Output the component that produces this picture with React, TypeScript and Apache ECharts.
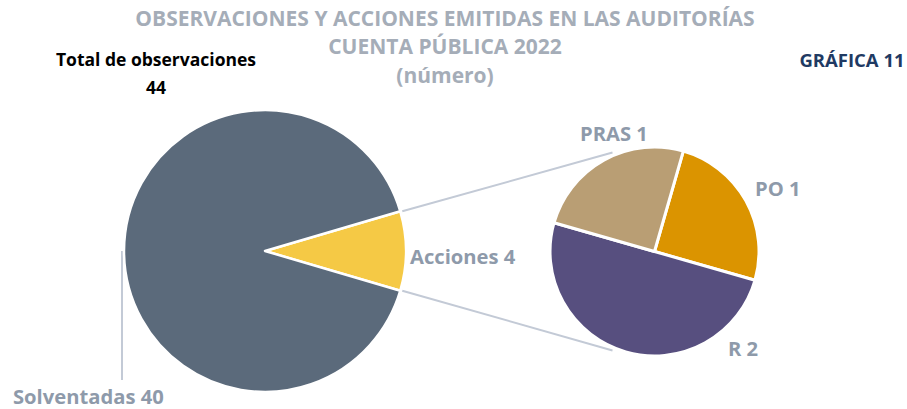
import React, { useEffect, useRef } from "react";
import * as echarts from "echarts";

const mainNames = ["Acciones", "Solventadas"];
const mainValues = [4, 40];
const subNames = ["PO", "R", "PRAS"];
const subValues = [1, 2, 1];
const titleLines = [
  "OBSERVACIONES Y ACCIONES EMITIDAS EN LAS AUDITORÍAS",
  "CUENTA PÚBLICA 2022",
  "(número)",
];
const totalLabel = "Total de observaciones";
const totalValue = 44;
const chartTag = "GRÁFICA 11";

const FONT = "'Open Sans', sans-serif";
const LABEL_COLOR = "#8e9aaa";
const TITLE_COLOR = "#a5adb8";

export default function App() {
  const ref = useRef<HTMLDivElement>(null);
  useEffect(() => {
    if (!ref.current) return;
    const chart = echarts.init(ref.current, null, { renderer: "svg" });

    const c1 = [265, 251];
    const r1 = 141;
    const c2 = [654.5, 251.5];
    const r2 = 104.5;
    const total = mainValues.reduce((a, b) => a + b, 0);
    const half = (360 * mainValues[0]) / total / 2;
    const rad = (d: number) => (d * Math.PI) / 180;
    const p1top = [c1[0] + r1 * Math.cos(rad(half)), c1[1] - r1 * Math.sin(rad(half))];
    const p1bot = [c1[0] + r1 * Math.cos(rad(half)), c1[1] + r1 * Math.sin(rad(half))];
    const p2top = [c2[0] + (r2 + 3) * Math.cos(rad(113)), c2[1] - (r2 + 3) * Math.sin(rad(113))];
    const p2bot = [c2[0] + (r2 + 3) * Math.cos(rad(113)), c2[1] + (r2 + 3) * Math.sin(rad(113))];

    const mainLabelPos = [
      { x: 410, y: 256 },
      { x: 13, y: 396 },
    ];
    const subLabelPos = [
      { x: 755, y: 188 },
      { x: 728, y: 348 },
      { x: 580, y: 133 },
    ];

    const labelStyle = {
      show: true,
      formatter: "{b} {c}",
      color: LABEL_COLOR,
      fontFamily: FONT,
      fontWeight: "bold" as const,
      fontSize: 20.2,
    };

    chart.setOption({
      animation: false,
      graphic: [
        ...titleLines.map((t, i) => ({
          type: "text",
          x: 445,
          y: [18, 46, 75][i],
          style: {
            text: t,
            fill: TITLE_COLOR,
            font: `bold 21px ${FONT}`,
            textAlign: "center",
            textVerticalAlign: "middle",
          },
        })),
        {
          type: "text",
          x: 156,
          y: 59,
          style: { text: totalLabel, fill: "#000", font: `bold 17.5px ${FONT}`, textAlign: "center", textVerticalAlign: "middle" },
        },
        {
          type: "text",
          x: 156,
          y: 87,
          style: { text: String(totalValue), fill: "#000", font: `bold 17.5px ${FONT}`, textAlign: "center", textVerticalAlign: "middle" },
        },
        {
          type: "text",
          x: 852,
          y: 59,
          style: { text: chartTag, fill: "#1f3a63", font: `bold 18.5px ${FONT}`, textAlign: "center", textVerticalAlign: "middle" },
        },
        {
          type: "line",
          shape: { x1: p1top[0] + 2, y1: p1top[1], x2: p2top[0], y2: p2top[1] },
          style: { stroke: "#c3cad6", lineWidth: 2 },
        },
        {
          type: "line",
          shape: { x1: p1bot[0] + 2, y1: p1bot[1], x2: p2bot[0], y2: p2bot[1] },
          style: { stroke: "#c3cad6", lineWidth: 2 },
        },
        {
          type: "line",
          shape: { x1: c1[0] - r1 - 2, y1: c1[1], x2: c1[0] - r1 - 2, y2: 380 },
          style: { stroke: "#c3cad6", lineWidth: 2 },
        },
      ],
      series: [
        {
          type: "pie",
          center: c1,
          radius: [0, r1],
          startAngle: half,
          clockwise: true,
          avoidLabelOverlap: false,
          itemStyle: { borderColor: "#fff", borderWidth: 2.5 },
          label: labelStyle,
          labelLine: { show: false },
          labelLayout: (p: any) => {
            const pos = mainLabelPos[p.dataIndex] || mainLabelPos[0];
            return { x: pos.x, y: pos.y, align: "left", verticalAlign: "middle" };
          },
          data: mainNames.map((n, i) => ({
            name: n,
            value: mainValues[i],
            itemStyle: { color: ["#f5c945", "#5b6a7b"][i] },
          })),
        },
        {
          type: "pie",
          center: c2,
          radius: [0, r2],
          startAngle: 74,
          clockwise: true,
          avoidLabelOverlap: false,
          itemStyle: { borderColor: "#fff", borderWidth: 3 },
          label: labelStyle,
          labelLine: { show: false },
          labelLayout: (p: any) => {
            const pos = subLabelPos[p.dataIndex] || subLabelPos[0];
            return { x: pos.x, y: pos.y, align: "left", verticalAlign: "middle" };
          },
          data: subNames.map((n, i) => ({
            name: n,
            value: subValues[i],
            itemStyle: { color: ["#db9400", "#574f7f", "#b99e74"][i] },
          })),
        },
      ],
    });
    return () => chart.dispose();
  }, []);
  return (
    <div
      ref={ref}
      style={{ position: "fixed", left: 0, top: 0, width: 907, height: 409, background: "#fff" }}
    />
  );
}
